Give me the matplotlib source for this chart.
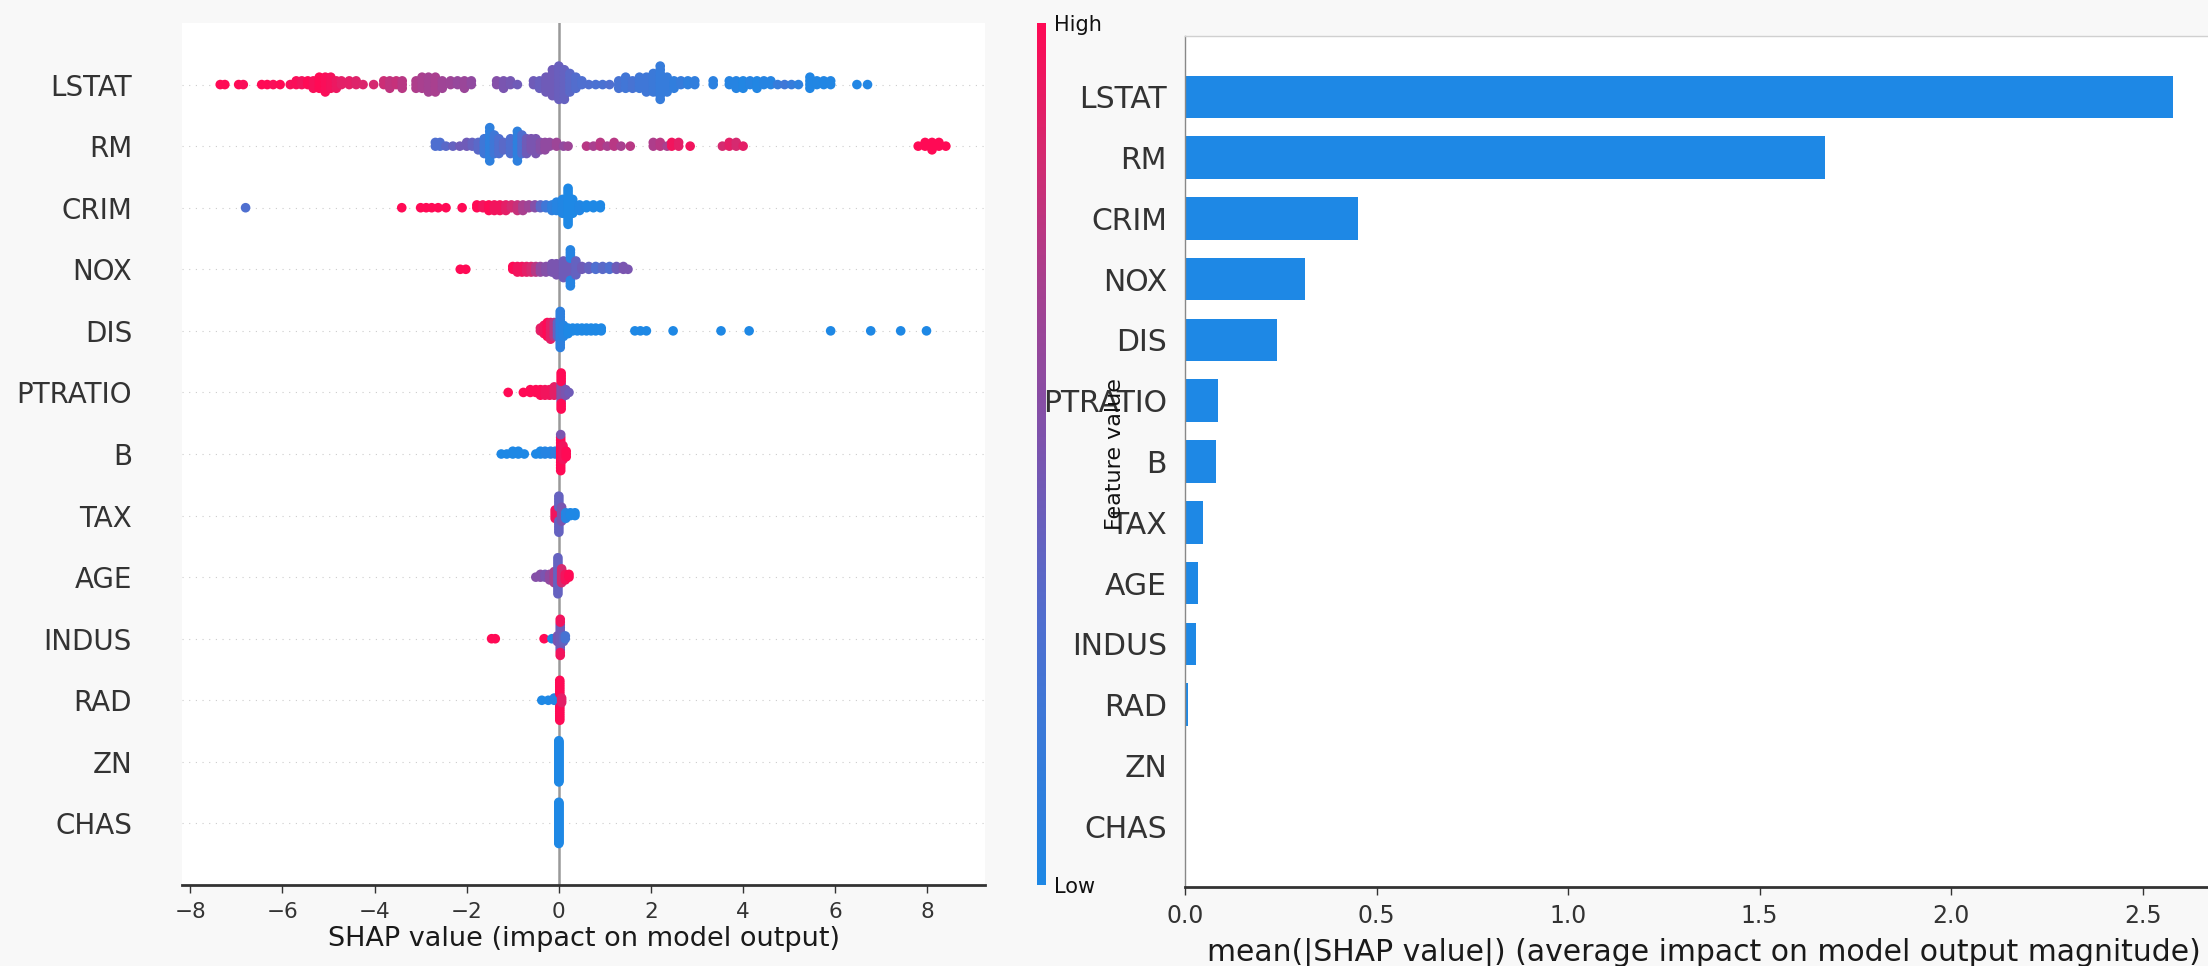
import numpy as np
import matplotlib
matplotlib.use("Agg")
import matplotlib.pyplot as plt
from matplotlib.colors import LinearSegmentedColormap

# ---------------- data ----------------
FEATURES = ["LSTAT", "RM", "CRIM", "NOX", "DIS", "PTRATIO", "B",
            "TAX", "AGE", "INDUS", "RAD", "ZN", "CHAS"]
MEAN_ABS_SHAP = [2.58, 1.67, 0.452, 0.313, 0.241, 0.086, 0.082,
                 0.048, 0.034, 0.030, 0.007, 0.0, 0.0]
BAR_TICKS = [0.0, 0.5, 1.0, 1.5, 2.0, 2.5]
SHAP_TICKS = [-8, -6, -4, -2, 0, 2, 4, 6, 8]

# (shap value, normalised feature value, number of samples)
LSTAT_POINTS = [
    (-7.35, 1.0, 1), (-7.25, 1.0, 1), (-6.95, 1.0, 1), (-6.85, 0.98, 1),
    (-6.45, 1.0, 1), (-6.33, 1.0, 1), (-6.2, 0.98, 1), (-6.05, 1.0, 1),
    (-5.83, 0.97, 1), (-5.7, 0.98, 2), (-5.58, 0.95, 2),
    (-5.45, 1.0, 2), (-5.33, 0.97, 3), (-5.2, 1.0, 4), (-5.07, 0.98, 5),
    (-4.95, 0.96, 4), (-4.83, 0.93, 3), (-4.72, 0.9, 2),
    (-4.55, 0.9, 2), (-4.4, 0.88, 2), (-4.25, 0.87, 1), (-4.02, 0.85, 1),
    (-3.8, 0.82, 2), (-3.67, 0.78, 3), (-3.53, 0.8, 2), (-3.4, 0.75, 3),
    (-3.1, 0.72, 3), (-2.97, 0.7, 4), (-2.83, 0.68, 5), (-2.68, 0.7, 5), (-2.53, 0.66, 3),
    (-2.35, 0.65, 2), (-2.2, 0.62, 2), (-2.05, 0.64, 3), (-1.9, 0.6, 2),
    (-1.35, 0.55, 2), (-1.2, 0.5, 3), (-1.05, 0.48, 2), (-0.9, 0.45, 1),
    (-0.55, 0.45, 2), (-0.42, 0.42, 3), (-0.28, 0.45, 5),
    (-0.14, 0.45, 8), (0.0, 0.42, 10), (0.12, 0.4, 9), (0.24, 0.35, 6), (0.37, 0.32, 4),
    (0.5, 0.3, 2), (0.65, 0.3, 1), (0.8, 0.28, 1), (0.95, 0.27, 1), (1.1, 0.3, 1),
    (1.3, 0.25, 3), (1.45, 0.22, 4), (1.6, 0.25, 3), (1.75, 0.2, 4), (1.9, 0.2, 5),
    (2.05, 0.18, 6), (2.2, 0.15, 10), (2.35, 0.15, 5), (2.5, 0.12, 3), (2.65, 0.15, 2),
    (2.8, 0.1, 2), (2.95, 0.12, 2),
    (3.35, 0.08, 2),
    (3.7, 0.05, 2), (3.85, 0.05, 3), (4.0, 0.03, 3), (4.15, 0.05, 2), (4.3, 0.03, 3),
    (4.45, 0.05, 2), (4.6, 0.05, 2), (4.75, 0.15, 1), (4.9, 0.2, 1), (5.05, 0.15, 1),
    (5.2, 0.1, 1),
    (5.45, 0.02, 4), (5.6, 0.03, 2), (5.75, 0.02, 2), (5.9, 0.03, 2),
    (6.47, 0.02, 1), (6.7, 0.03, 1),
]
RM_POINTS = [
    (-2.68, 0.3, 2), (-2.58, 0.3, 2), (-2.45, 0.35, 1), (-2.3, 0.4, 1), (-2.15, 0.45, 1),
    (-2.0, 0.45, 2), (-1.88, 0.4, 2), (-1.75, 0.35, 3), (-1.62, 0.2, 5), (-1.5, 0.1, 10),
    (-1.4, 0.2, 6), (-1.3, 0.3, 5), (-1.2, 0.35, 3), (-1.05, 0.3, 5), (-0.9, 0.1, 9),
    (-0.8, 0.3, 6), (-0.7, 0.45, 5), (-0.6, 0.5, 4), (-0.5, 0.5, 5), (-0.4, 0.55, 3),
    (-0.3, 0.6, 3), (-0.2, 0.6, 2), (-0.05, 0.65, 2), (0.1, 0.6, 1), (0.2, 0.65, 1),
    (0.6, 0.75, 1), (0.75, 0.7, 1), (0.9, 0.75, 2), (1.05, 0.7, 1), (1.2, 0.75, 2),
    (1.35, 0.7, 1), (1.55, 0.75, 1),
    (2.05, 0.72, 2), (2.2, 0.75, 2), (2.35, 0.7, 1), (2.45, 0.95, 2), (2.6, 0.9, 2),
    (2.85, 0.95, 1),
    (3.55, 0.85, 1), (3.7, 0.9, 2), (3.85, 0.85, 2), (4.0, 0.9, 1),
    (7.8, 1.0, 1), (7.95, 1.0, 2), (8.1, 1.0, 3), (8.25, 1.0, 2), (8.4, 1.0, 1),
]
CRIM_POINTS = [
    (-6.8, 0.3, 1), (-3.41, 1.0, 1), (-3.0, 1.0, 1), (-2.88, 1.0, 1), (-2.76, 1.0, 1),
    (-2.62, 1.0, 1), (-2.45, 1.0, 1), (-2.1, 1.0, 1), (-1.78, 1.0, 2), (-1.65, 0.95, 2),
    (-1.52, 1.0, 3), (-1.4, 0.95, 3), (-1.28, 0.95, 3), (-1.15, 0.9, 3), (-1.03, 0.85, 2),
    (-0.9, 0.8, 3), (-0.78, 0.7, 3), (-0.65, 0.65, 2), (-0.52, 0.55, 2), (-0.4, 0.35, 2),
    (-0.28, 0.2, 2), (-0.15, 0.1, 3), (-0.05, 0.05, 4), (0.08, 0.02, 6), (0.2, 0.0, 14),
    (0.3, 0.0, 6), (0.45, 0.02, 3), (0.6, 0.0, 2), (0.75, 0.0, 2), (0.9, 0.0, 2),
]
NOX_POINTS = [
    (-2.14, 1.0, 1), (-2.02, 1.0, 1), (-1.0, 1.0, 2), (-0.9, 0.95, 3), (-0.8, 0.95, 3),
    (-0.7, 0.9, 3), (-0.6, 0.85, 3), (-0.5, 0.75, 3), (-0.4, 0.6, 3), (-0.28, 0.55, 3),
    (-0.15, 0.5, 4), (-0.05, 0.5, 5), (0.1, 0.45, 7), (0.25, 0.45, 7), (0.25, 0.05, 7),
    (0.37, 0.4, 6), (0.5, 0.45, 2), (0.65, 0.4, 2), (0.8, 0.3, 2), (0.95, 0.35, 2),
    (1.1, 0.3, 2), (1.25, 0.45, 2), (1.4, 0.5, 2), (1.5, 0.5, 1),
]
DIS_POINTS = [
    (-0.4, 0.9, 2), (-0.32, 0.95, 4), (-0.25, 1.0, 6), (-0.18, 0.9, 7), (-0.1, 0.75, 6),
    (-0.03, 0.4, 6), (0.03, 0.1, 14), (0.1, 0.05, 5), (0.2, 0.0, 3), (0.3, 0.0, 2),
    (0.4, 0.0, 2), (0.5, 0.0, 2), (0.6, 0.0, 2), (0.7, 0.0, 2), (0.8, 0.0, 2),
    (0.92, 0.0, 2), (1.65, 0.0, 1), (1.77, 0.0, 1), (1.9, 0.0, 1), (2.48, 0.0, 1),
    (3.52, 0.0, 1), (4.13, 0.0, 1), (5.9, 0.0, 1), (6.77, 0.0, 1), (7.42, 0.0, 1),
    (7.98, 0.0, 1),
]
PTRATIO_POINTS = [
    (-1.1, 1.0, 1), (-0.77, 1.0, 1), (-0.62, 1.0, 2), (-0.5, 1.0, 2), (-0.4, 1.0, 3),
    (-0.3, 0.95, 3), (-0.2, 0.95, 3), (-0.1, 0.9, 4), (0.05, 0.55, 7), (0.05, 1.0, 7),
    (0.15, 0.5, 3), (0.22, 0.45, 1),
]
B_POINTS = [
    (-1.25, 0.0, 1), (-1.13, 0.0, 1), (-1.0, 0.0, 2), (-0.88, 0.0, 2), (-0.75, 0.0, 1),
    (-0.5, 0.0, 1), (-0.4, 0.0, 2), (-0.3, 0.05, 2), (-0.18, 0.05, 2), (-0.08, 0.1, 2),
    (0.04, 1.0, 13), (0.04, 0.5, 1), (0.09, 0.95, 6), (0.16, 1.0, 3),
]
TAX_POINTS = [
    (-0.08, 0.95, 4), (0.0, 0.95, 4), (0.0, 0.4, 10), (0.06, 0.5, 6), (0.15, 0.05, 3),
    (0.25, 0.0, 2), (0.35, 0.0, 2),
]
AGE_POINTS = [
    (-0.5, 0.55, 1), (-0.4, 0.55, 2), (-0.3, 0.5, 2), (-0.2, 0.6, 3), (-0.1, 0.7, 5),
    (-0.02, 0.4, 14), (0.06, 0.85, 6), (0.14, 0.95, 3), (0.22, 1.0, 2),
]
INDUS_POINTS = [
    (-1.46, 1.0, 1), (-1.38, 1.0, 1), (-0.32, 1.0, 1), (-0.15, 0.0, 1), (-0.03, 0.5, 3),
    (0.03, 0.45, 10), (0.03, 0.95, 4), (0.1, 0.4, 3), (0.14, 0.25, 2),
]
RAD_POINTS = [
    (-0.37, 0.0, 1), (-0.23, 0.0, 1), (-0.1, 0.05, 2), (0.02, 0.0, 5), (0.02, 1.0, 14),
    (0.06, 0.9, 3),
]
ZN_POINTS = [(0.0, 0.0, 40)]
CHAS_POINTS = [(0.0, 0.0, 40)]

ROWS = [LSTAT_POINTS, RM_POINTS, CRIM_POINTS, NOX_POINTS, DIS_POINTS, PTRATIO_POINTS,
        B_POINTS, TAX_POINTS, AGE_POINTS, INDUS_POINTS, RAD_POINTS, ZN_POINTS, CHAS_POINTS]

# ---------------- style ----------------
cmap = LinearSegmentedColormap.from_list(
    "shap_red_blue",
    [(0.0, "#1e88e5"), (0.3, "#4f6fd0"), (0.5, "#7a55b0"),
     (0.7, "#a8408f"), (0.85, "#d52a70"), (1.0, "#ff0a55")])
TEXT = "#333333"
FIG_BG = "#f8f8f8"
W, H = 2208, 966


def expand(points):
    vals, cols = [], []
    for v, c, n in points:
        vals += [v] * n
        cols += [c] * n
    return np.array(vals, float), np.array(cols, float)


def swarm_offsets(vals, row_height=0.4):
    # beeswarm layering: points sharing a value alternate above/below the row
    ys = np.zeros(len(vals))
    layers = {}
    for i, v in enumerate(vals):
        layer = layers.get(v, 0)
        ys[i] = np.ceil(layer / 2) * ((layer % 2) * 2 - 1)
        layers[v] = layer + 1
    ys *= 0.9 * (row_height / np.max(ys + 1))
    return ys


fig = plt.figure(figsize=(W / 100, H / 100), dpi=100, facecolor=FIG_BG)

# ---------- left: beeswarm ----------
ax1 = fig.add_axes([182 / W, 81 / H, 803 / W, 862 / H], facecolor="white")
n = len(FEATURES)
for k, pts in enumerate(ROWS):
    ypos = n - 1 - k
    ax1.axhline(ypos, color="#cccccc", lw=0.8, dashes=(1, 5), zorder=0)
    vals, cols = expand(pts)
    offs = swarm_offsets(vals)
    ax1.scatter(vals, ypos + offs, c=cols, cmap=cmap, vmin=0, vmax=1,
                s=48, linewidths=0, zorder=3)
ax1.axvline(0, color="#999999", lw=1.8, zorder=1)
ax1.set_ylim(-1, n)
ax1.set_xlim(-8.18, 9.25)
ax1.set_yticks(range(n))
ax1.set_yticklabels(FEATURES[::-1])
ax1.set_xticks(SHAP_TICKS)
ax1.set_xticklabels([f"{t}".replace("-", "\u2212") for t in SHAP_TICKS])
ax1.tick_params(axis="y", length=0, pad=36, labelsize=20, labelcolor=TEXT)
ax1.tick_params(axis="x", length=6, width=1, color=TEXT, pad=6,
                labelsize=15.5, labelcolor=TEXT)
for s in ("top", "right", "left"):
    ax1.spines[s].set_visible(False)
ax1.spines["bottom"].set_linewidth(2)
ax1.spines["bottom"].set_color(TEXT)
ax1.set_xlabel("SHAP value (impact on model output)", fontsize=19.5,
               color="#1a1a1a", labelpad=3)

# ---------- colour bar ----------
cax = fig.add_axes([1037 / W, 81 / H, 9 / W, 862 / H])
cax.imshow(np.linspace(0, 1, 256)[:, None], aspect="auto", cmap=cmap,
           origin="lower", extent=[0, 1, 0, 1])
cax.set_xticks([])
cax.yaxis.tick_right()
cax.set_yticks([0, 1])
cax.set_yticklabels(["Low", "High"])
cax.tick_params(axis="y", length=0, pad=6, labelsize=15, labelcolor="#111111")
for s in cax.spines.values():
    s.set_visible(False)
fig.text(1115 / W, 1 - 454 / H, "Feature value", rotation=90, ha="center",
         va="center", fontsize=16, color="#111111")

# ---------- right: bar chart ----------
ax2 = fig.add_axes([1185 / W, 79 / H, 1038 / W, 851 / H], facecolor="white")
ax2.barh(range(n), MEAN_ABS_SHAP[::-1], height=0.7, color="#1E88E5")
ax2.set_ylim(-1, n)
ax2.set_xlim(0, 2.71)
ax2.set_yticks(range(n))
ax2.set_yticklabels(FEATURES[::-1])
ax2.set_xticks(BAR_TICKS)
ax2.set_xticklabels([f"{t:.1f}" for t in BAR_TICKS])
ax2.tick_params(axis="y", length=0, pad=13, labelsize=21.5, labelcolor=TEXT)
ax2.tick_params(axis="x", length=6, width=1, color=TEXT, pad=6,
                labelsize=17, labelcolor=TEXT)
ax2.spines["right"].set_visible(False)
ax2.spines["top"].set_color("#d0d0d0")
ax2.spines["top"].set_linewidth(1)
ax2.spines["left"].set_color("#888888")
ax2.spines["left"].set_linewidth(1)
ax2.spines["bottom"].set_linewidth(2)
ax2.spines["bottom"].set_color(TEXT)
ax2.set_xlabel("mean(|SHAP value|) (average impact on model output magnitude)",
               fontsize=21.5, color="#1a1a1a", labelpad=7)

fig.savefig("out.png", dpi=100, facecolor=FIG_BG)
